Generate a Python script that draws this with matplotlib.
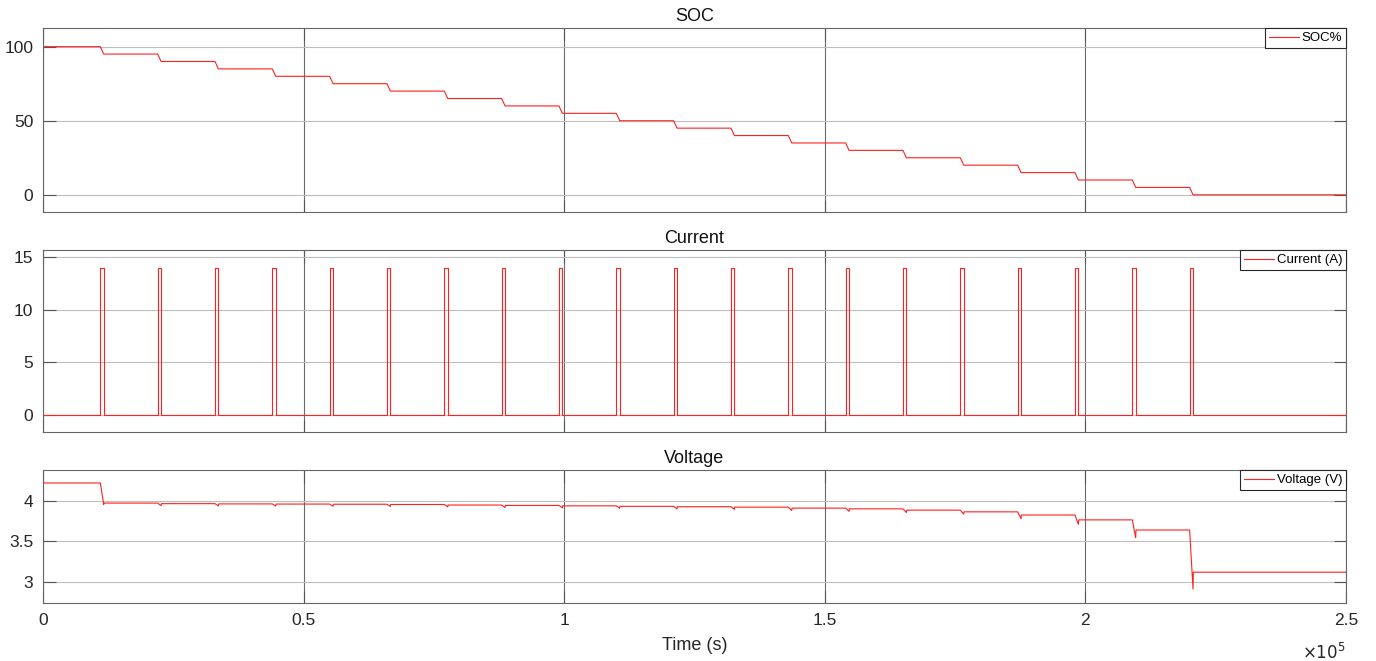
import matplotlib
matplotlib.use("Agg")
import matplotlib.pyplot as plt
from matplotlib.ticker import FuncFormatter

# pulse schedule (s)
pulse_start = [11000, 22000, 33000, 44000, 55000, 66000, 77000, 88000, 99000, 110000,
               121000, 132000, 143000, 154000, 165000, 176000, 187000, 198000, 209000, 220000]
pulse_width = 650
pulse_amp = 14
t_end = 250000

# SOC rest levels (%) before first pulse and after each pulse
soc_levels = [100, 95, 90, 85, 80, 75, 70, 65, 60, 55, 50, 45, 40, 35, 30, 25, 20, 15, 10, 5, 0]

# voltage rest levels (V) and minimum at the end of each pulse
v_rest = [4.22, 3.972, 3.965, 3.962, 3.96, 3.958, 3.955, 3.948, 3.943, 3.938, 3.932,
          3.927, 3.922, 3.91, 3.901, 3.885, 3.864, 3.825, 3.765, 3.64, 3.12]
v_dip = [3.955, 3.94, 3.937, 3.935, 3.932, 3.93, 3.925, 3.918, 3.913, 3.908,
         3.9, 3.895, 3.88, 3.87, 3.855, 3.835, 3.78, 3.71, 3.545, 2.91]

# build traces
t_soc, y_soc = [0], [soc_levels[0]]
t_cur, y_cur = [0], [0]
t_v, y_v = [0], [v_rest[0]]
for k, ts in enumerate(pulse_start):
    te = ts + pulse_width
    t_soc += [ts, te]
    y_soc += [soc_levels[k], soc_levels[k + 1]]
    t_cur += [ts, ts, te, te]
    y_cur += [0, pulse_amp, pulse_amp, 0]
    t_v += [ts, te, te + 60]
    y_v += [v_rest[k], v_dip[k], v_rest[k + 1]]
t_soc.append(t_end); y_soc.append(soc_levels[-1])
t_cur.append(t_end); y_cur.append(0)
t_v.append(t_end); y_v.append(v_rest[-1])

plt.rcParams['font.family'] = ['Liberation Sans', 'DejaVu Sans']
txt = '#262626'

fig = plt.figure(figsize=(13.76, 6.61), dpi=100)
W, H = 1376, 661
left, right = 43, 1346
boxes = [(28, 212), (250, 432), (470, 603)]
axes = []
for top, bot in boxes:
    ax = fig.add_axes([left / W, 1 - bot / H, (right - left) / W, (bot - top) / H])
    axes.append(ax)
ax0, ax1, ax2 = axes

ax0.plot(t_soc, y_soc, color='#ff2020', linewidth=0.8, label='SOC%')
ax1.plot(t_cur, y_cur, color='#ff2020', linewidth=0.8, label='Current (A)')
ax2.plot(t_v, y_v, color='#ff2020', linewidth=0.8, label='Voltage (V)')

ax0.set_ylim(-11.6, 112.6)
ax0.set_yticks([0, 50, 100])
ax1.set_ylim(-1.65, 15.7)
ax1.set_yticks([0, 5, 10, 15])
ax2.set_ylim(2.74, 4.38)
ax2.set_yticks([3, 3.5, 4])
ax2.yaxis.set_major_formatter(FuncFormatter(lambda v, p: f"{v:g}"))

for ax, title in zip(axes, ['SOC', 'Current', 'Voltage']):
    ax.set_xlim(0, t_end)
    ax.set_xticks([0, 50000, 100000, 150000, 200000, 250000])
    ax.set_title(title, fontsize=13, color='#111111', pad=5)
    ax.grid(axis='y', color='#bdbdbd', linewidth=0.8)
    ax.grid(axis='x', color='#6a6a6a', linewidth=0.8)
    ax.set_axisbelow(True)
    for s in ax.spines.values():
        s.set_color('#666666')
        s.set_linewidth(0.8)
    ax.tick_params(direction='in', length=9, width=0.8, colors='#555555',
                   labelcolor=txt, labelsize=12.5, top=True, right=True, pad=7)
    leg = ax.legend(loc='upper right', borderaxespad=0, fontsize=9.5, fancybox=False,
                    framealpha=1, edgecolor='#262626', handlelength=2.3,
                    borderpad=0.3, handletextpad=0.2)
    leg.get_frame().set_linewidth(0.8)
    if ax is not ax2:
        ax.tick_params(labelbottom=False)

ax2.xaxis.set_major_formatter(FuncFormatter(lambda v, p: f"{v / 1e5:g}"))
ax2.set_xlabel('Time (s)', fontsize=13, color=txt, labelpad=7)
ax2.annotate(r'$\times 10^5$', xy=(1, 0), xycoords='axes fraction', xytext=(0, -35),
             textcoords='offset points', ha='right', va='center', fontsize=12, color=txt)

fig.savefig('out.png', dpi=100)
